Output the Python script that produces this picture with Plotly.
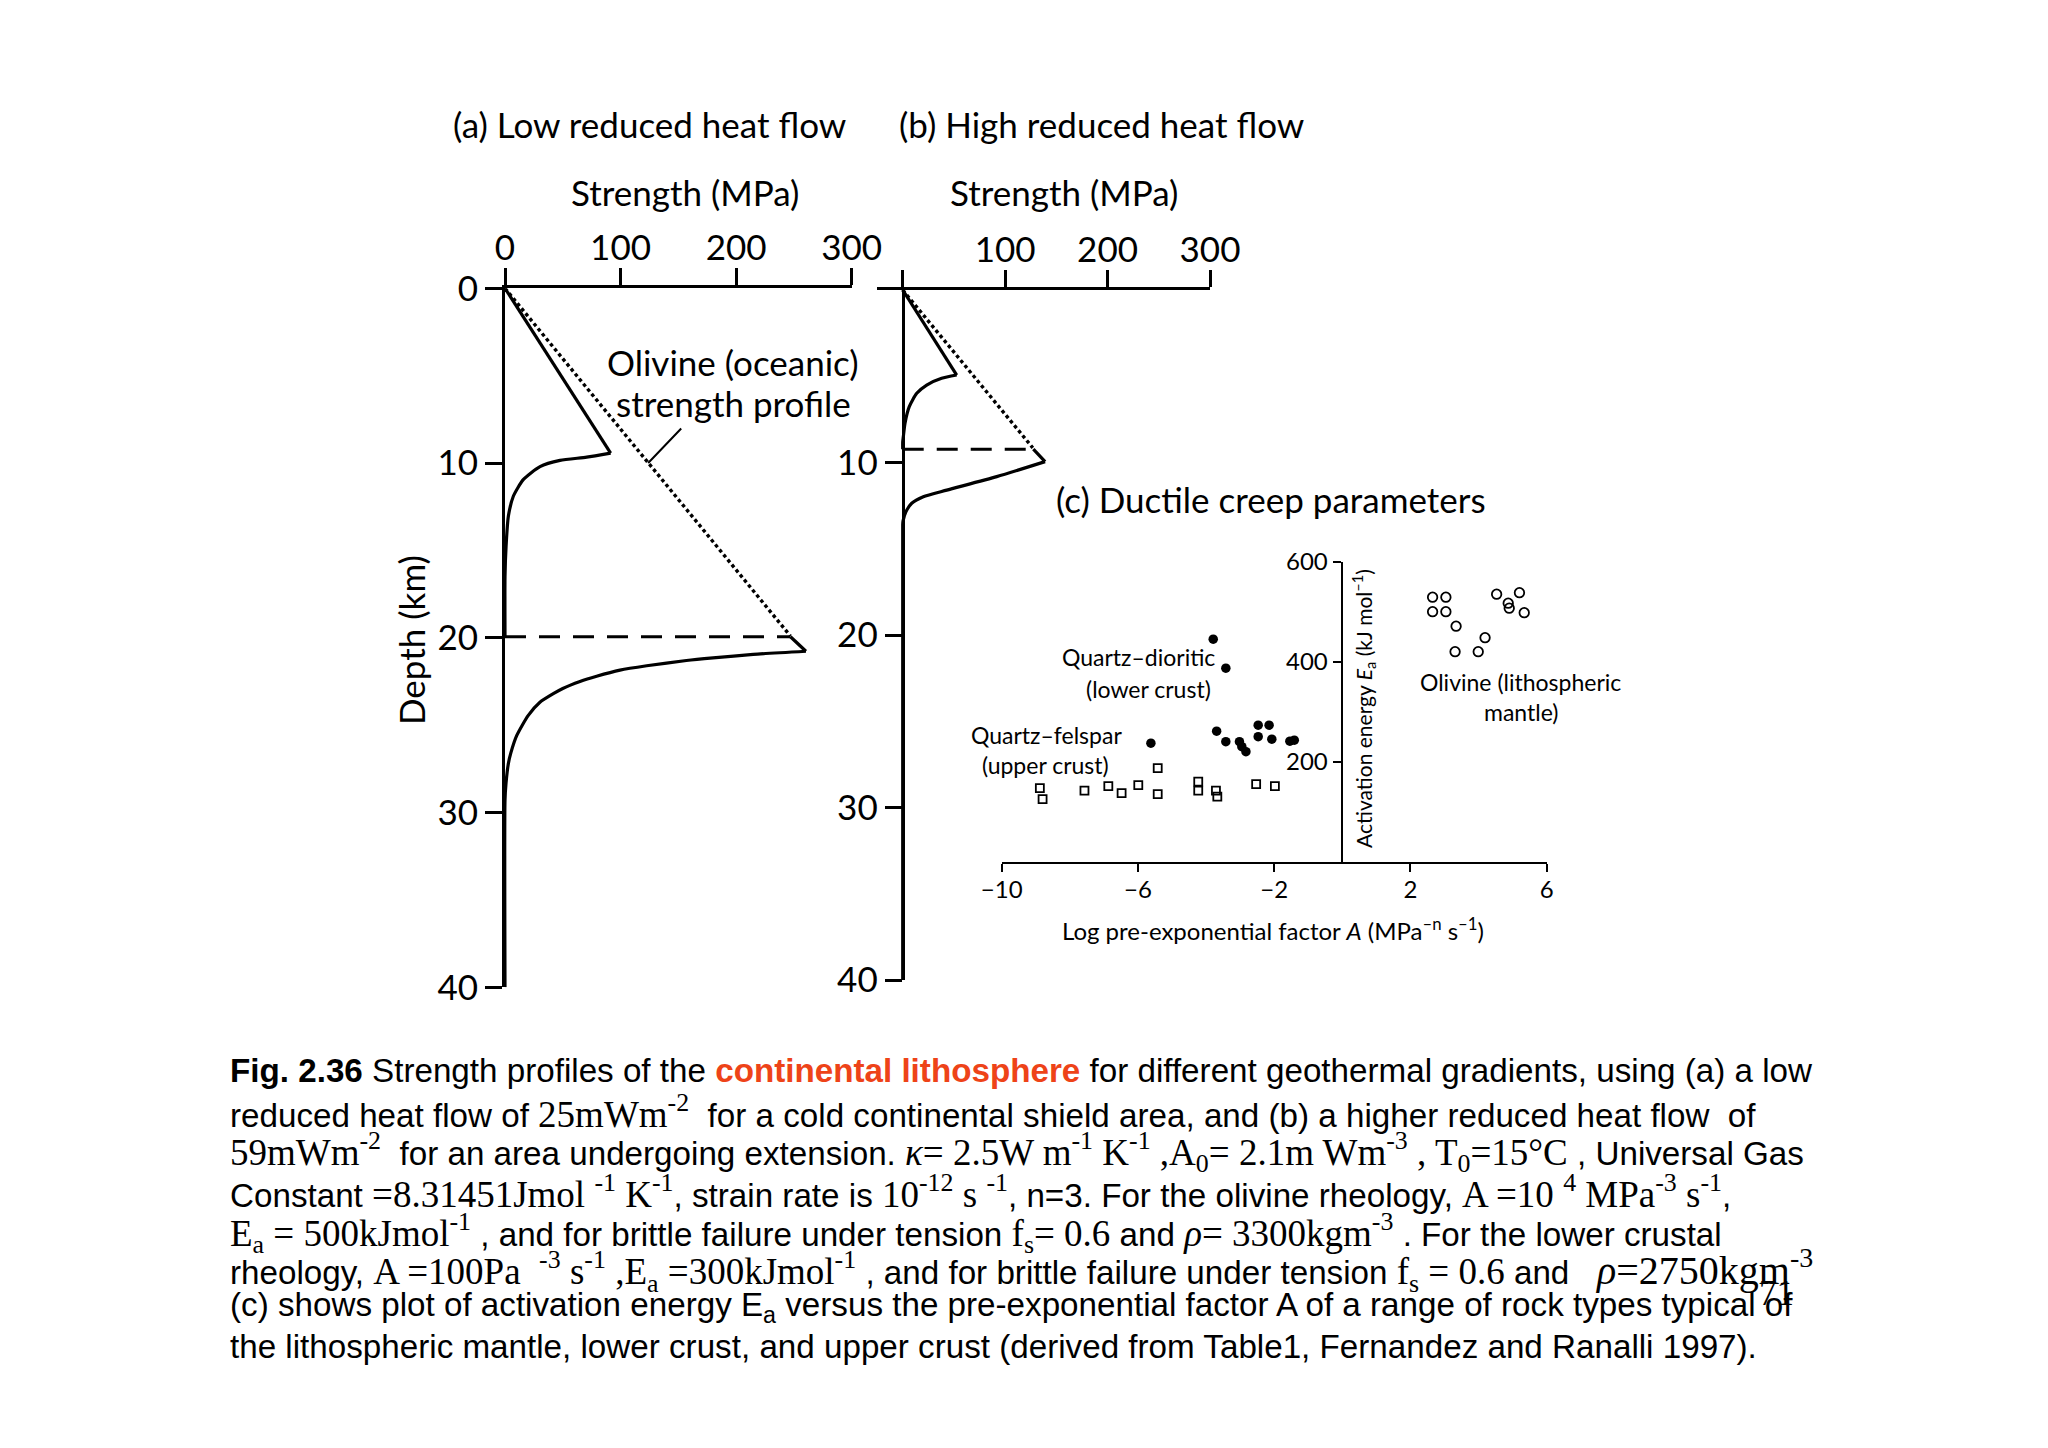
import plotly.graph_objects as go

W, H = 2048, 1448

# ---------------- data ----------------
# Panel (a): low reduced heat flow  (strength MPa, depth km)
a_brittle1_S = [0, 91.4]
a_brittle1_D = [0, 9.43]
a_ductile1_S = [91.4, 70.7, 47.6, 30.3, 15.8, 7.2, 2.9, 0.9, 0, 0]
a_ductile1_D = [9.43, 9.66, 9.85, 10.2, 10.95, 11.9, 13.05, 14.8, 16.5, 19.94]
a_brittle2_S = [247, 260.4]
a_brittle2_D = [19.94, 20.77]
a_ductile2_S = [260.4, 214.8, 180, 157, 122.6, 99.5, 79.3, 64.9, 50, 41.8, 30, 20, 10.1, 5, 2.9, 0.9, 0, 0]
a_ductile2_D = [20.77, 20.95, 21.15, 21.3, 21.6, 21.85, 22.2, 22.5, 22.9, 23.2, 23.7, 24.45, 25.6, 26.6, 27.2, 28.3, 29.3, 40]
a_moho_S = [0, 247]
a_moho_D = [19.94, 19.94]
a_olivine_S = [0, 247]
a_olivine_D = [0, 19.9]
a_leader_S = [153.7, 123.9]
a_leader_D = [7.94, 10.0]

# Panel (b): high reduced heat flow
b_brittle1_S = [0, 52.7]
b_brittle1_D = [0, 4.93]
b_ductile1_S = [52.7, 38, 23.4, 13.7, 6.4, 2.2, 0.6, 0, 0]
b_ductile1_D = [4.93, 5.12, 5.51, 5.99, 6.76, 7.73, 8.5, 8.8, 9.23]
b_brittle2_S = [127.5, 139]
b_brittle2_D = [9.23, 9.95]
b_ductile2_S = [139, 91.8, 43, 20.1, 8.8, 3.2, 0.3, 0, 0]
b_ductile2_D = [9.95, 10.82, 11.6, 11.98, 12.36, 12.85, 13.4, 13.6, 40]
b_moho_S = [0, 127.5]
b_moho_D = [9.23, 9.23]
b_olivine_S = [0, 127]
b_olivine_D = [0, 9.15]

strength_ticks = [0, 100, 200, 300]
depth_ticks = [0, 10, 20, 30, 40]

# Panel (c): ductile creep parameters (log A, Ea kJ/mol)
qd_logA = [-3.79, -3.42, -3.69, -3.42, -3.02, -2.95, -2.83, -2.47, -2.15, -2.47, -2.07, -1.54, -1.41, -5.62]
qd_Ea = [445, 387, 261, 240, 240, 230, 220, 273, 273, 250, 245, 241, 243, 237]
qf_logA = [-8.88, -8.80, -7.57, -6.87, -6.48, -5.99, -5.42, -5.42, -4.23, -4.23, -3.71, -3.67, -2.53, -1.98]
qf_Ea = [147, 125, 142, 151, 137, 153, 187, 135, 160, 142, 142, 130, 155, 151]
ol_logA = [2.65, 3.04, 2.65, 3.04, 3.34, 3.31, 3.99, 4.19, 4.53, 4.87, 4.90, 5.20, 5.34]
ol_Ea = [529, 529, 500, 500, 471, 420, 420, 448, 535, 517, 507, 538, 498]
c_xticks = [-10, -6, -2, 2, 6]
c_xticktext = ["\u221210", "\u22126", "\u22122", "2", "6"]
c_yticks = [200, 400, 600]

# ---------------- styling helpers ----------------
FIG_FONT = "Lato, 'Open Sans', sans-serif"
CAP_FONT = "'Liberation Sans', Arial, sans-serif"
SERIF_CSS = "Liberation Serif, Times New Roman, serif"
NB = "\u00a0"


def X(px):
    return px / W


def Y(py):
    return 1 - py / H


fig = go.Figure()

LW = 3.2
solid = dict(color="black", width=LW)
curve = dict(color="black", width=LW, shape="spline", smoothing=0.6)
dashed = dict(color="black", width=3, dash="21px,13px")
dotted = dict(color="black", width=3.4, dash="3.5px,3px")


def add_line(S, D, ln, xa, ya):
    fig.add_trace(go.Scatter(x=S, y=D, mode="lines", line=ln, xaxis=xa, yaxis=ya,
                             showlegend=False, hoverinfo="skip"))


# panel a
add_line(a_olivine_S, a_olivine_D, dotted, "x", "y")
add_line(a_moho_S, a_moho_D, dashed, "x", "y")
add_line(a_brittle1_S, a_brittle1_D, solid, "x", "y")
add_line(a_ductile1_S, a_ductile1_D, curve, "x", "y")
add_line(a_brittle2_S, a_brittle2_D, solid, "x", "y")
add_line(a_ductile2_S, a_ductile2_D, curve, "x", "y")
# panel b
add_line(b_olivine_S, b_olivine_D, dotted, "x2", "y2")
add_line(b_moho_S, b_moho_D, dashed, "x2", "y2")
add_line(b_brittle1_S, b_brittle1_D, solid, "x2", "y2")
add_line(b_ductile1_S, b_ductile1_D, curve, "x2", "y2")
add_line(b_brittle2_S, b_brittle2_D, solid, "x2", "y2")
add_line(b_ductile2_S, b_ductile2_D, curve, "x2", "y2")

# panel c
fig.add_trace(go.Scatter(x=qd_logA, y=qd_Ea, mode="markers", xaxis="x3", yaxis="y3",
                         marker=dict(symbol="circle", size=9.5, color="black"),
                         showlegend=False, hoverinfo="skip"))
fig.add_trace(go.Scatter(x=qf_logA, y=qf_Ea, mode="markers", xaxis="x3", yaxis="y3",
                         marker=dict(symbol="square-open", size=8, color="black",
                                     line=dict(width=1.8, color="black")),
                         showlegend=False, hoverinfo="skip"))
fig.add_trace(go.Scatter(x=ol_logA, y=ol_Ea, mode="markers", xaxis="x3", yaxis="y3",
                         marker=dict(symbol="circle-open", size=9.5, color="black",
                                     line=dict(width=1.8, color="black")),
                         showlegend=False, hoverinfo="skip"))

axis_common = dict(showline=True, linecolor="black", linewidth=3, ticks="outside",
                   tickcolor="black", tickwidth=3, showgrid=False, zeroline=False,
                   fixedrange=True, automargin=False)
big_tick = dict(family=FIG_FONT, size=35, color="black")
small_tick = dict(family=FIG_FONT, size=24, color="black")

fig.update_layout(
    template="none",
    width=W, height=H, autosize=False,
    margin=dict(l=0, r=0, t=0, b=0, pad=0),
    paper_bgcolor="white", plot_bgcolor="rgba(0,0,0,0)",
    xaxis=dict(axis_common, domain=[X(505), X(851.7)], range=[0, 300], side="top",
               anchor="y", tickvals=strength_ticks, ticklen=17, tickfont=big_tick,
               ticklabelstandoff=-6),
    yaxis=dict(axis_common, domain=[Y(987.3), Y(288.3)], range=[40, 0], anchor="x",
               tickvals=depth_ticks, ticklen=17, tickfont=big_tick),
    xaxis2=dict(axis_common, domain=[X(876.7), X(1210)], range=[-25.4, 300], side="top",
                anchor="y2", tickvals=strength_ticks, ticktext=["", "100", "200", "300"],
                ticklen=17, tickfont=big_tick, ticklabelstandoff=-6),
    yaxis2=dict(axis_common, domain=[Y(980), Y(290)], range=[40, 0], anchor="free",
                position=X(902.7), tickvals=depth_ticks[1:], ticklen=17, tickfont=big_tick),
    xaxis3=dict(axis_common, domain=[X(1001.7), X(1546.7)], range=[-10, 6], side="bottom",
                anchor="y3", tickvals=c_xticks, ticktext=c_xticktext, ticklen=8,
                tickwidth=2, linewidth=2.2, tickfont=small_tick, ticklabelstandoff=-3),
    yaxis3=dict(axis_common, domain=[Y(861.7), Y(561.7)], range=[0, 600], anchor="free",
                position=X(1341.7), tickvals=c_yticks, ticklen=8, tickwidth=2,
                linewidth=2.2, tickfont=small_tick),
)

ann = []


def txt(text, px, py, size=35, family=FIG_FONT, xanchor="center", angle=0, color="black"):
    ann.append(dict(text=text, x=X(px), y=Y(py), xref="paper", yref="paper",
                    xanchor=xanchor, yanchor="middle", showarrow=False, textangle=angle,
                    borderpad=0, font=dict(family=family, size=size, color=color)))


txt("(a) Low reduced heat flow", 649, 124)
txt("(b) High reduced heat flow", 1101.6, 124)
txt("Strength (MPa)", 685, 191.7)
txt("Strength (MPa)", 1064, 191.7)
txt("Olivine (oceanic)", 733, 361.7)
txt("strength profile", 733, 403.3)
txt("Depth (km)", 411, 640, angle=-90)
txt("(c) Ductile creep parameters", 1055, 499, xanchor="left")
txt("Quartz\u2013dioritic", 1216, 657, size=23, xanchor="right")
txt("(lower crust)", 1148, 689, size=23)
txt("Quartz\u2013felspar", 1046, 735, size=23)
txt("(upper crust)", 1045, 765, size=23)
txt("Olivine (lithospheric", 1520.7, 681.7, size=23)
txt("mantle)", 1520.7, 711.7, size=23)
txt("Activation energy <i>E</i><sub>a</sub> (kJ mol<sup>\u20131</sup>)", 1364, 709, size=21, angle=-90)
txt("Log pre-exponential factor <i>A</i> (MPa<sup>\u2013n</sup> s<sup>\u20131</sup>)", 1273, 929, size=24)

# leader line for olivine label
ann.append(dict(x=a_leader_S[1], y=a_leader_D[1], ax=a_leader_S[0], ay=a_leader_D[0],
                xref="x", yref="y", axref="x", ayref="y", text="", showarrow=True,
                arrowhead=0, arrowwidth=2, arrowcolor="black", standoff=0, startstandoff=0))


def sf(s, size=37):
    return '<span style="font-family:' + SERIF_CSS + '; font-size:' + str(size) + 'px">' + s + '</span>'


ORANGE = "#ee4318"
cap_lines = [
    "<b>Fig. 2.36</b> Strength profiles of the <span style=\"color:" + ORANGE +
    "\"><b>continental lithosphere</b></span> for different geothermal gradients, using (a) a low",
    "reduced heat flow of " + sf("25mWm<sup>-2</sup>") +
    NB + NB + "for a cold continental shield area, and (b) a higher reduced heat flow" + NB + " of",
    sf("59mWm<sup>-2</sup>") + NB + " for an area undergoing extension. " +
    sf("<i>\u03ba</i>= 2.5W m<sup>-1</sup> K<sup>-1</sup> ,A<sub>0</sub>= 2.1m Wm<sup>-3</sup> , T<sub>0</sub>=15\u00b0C") +
    " , Universal Gas",
    "Constant " + sf("=8.31451Jmol <sup>-1</sup> K<sup>-1</sup>") + ", strain rate is " +
    sf("10<sup>-12</sup> s <sup>-1</sup>") + ", n=3. For the olivine rheology, " +
    sf("A =10 <sup>4</sup> MPa<sup>-3</sup> s<sup>-1</sup>") + ",",
    sf("E<sub>a</sub> = 500kJmol<sup>-1</sup>") + " , and for brittle failure under tension " +
    sf("f<sub>s</sub>= 0.6") + " and " + sf("<i>\u03c1</i>= 3300kgm<sup>-3</sup>") +
    " . For the lower crustal",
    "rheology, " + sf("A =100Pa" + NB + NB + "<sup>-3</sup> s<sup>-1</sup>" + NB + ",E<sub>a</sub> =300kJmol<sup>-1</sup>") +
    " , and for brittle failure under tension " + sf("f<sub>s</sub> = 0.6") + " and" + NB + NB + " " +
    sf("<i>\u03c1</i>=2750kgm<sup>-3</sup>", 40),
    "(c) shows plot of activation energy E<sub>a</sub> versus the pre-exponential factor A of a range of rock types typical of",
    "the lithospheric mantle, lower crust, and upper crust (derived from Table1, Fernandez and Ranalli 1997).",
]
cap_y = [1070, 1111.7, 1151.7, 1191.7, 1233.3, 1270, 1306.7, 1346.7]
for line, yy in zip(cap_lines, cap_y):
    txt(line, 229, yy, size=33.2, family=CAP_FONT, xanchor="left")
txt("71", 1776, 1293, size=35, family="Liberation Serif, Times New Roman, serif")

fig.update_layout(annotations=ann)

fig.write_html("out.html", config={"displayModeBar": False},
               post_script="document.body.style.margin='0px';")
